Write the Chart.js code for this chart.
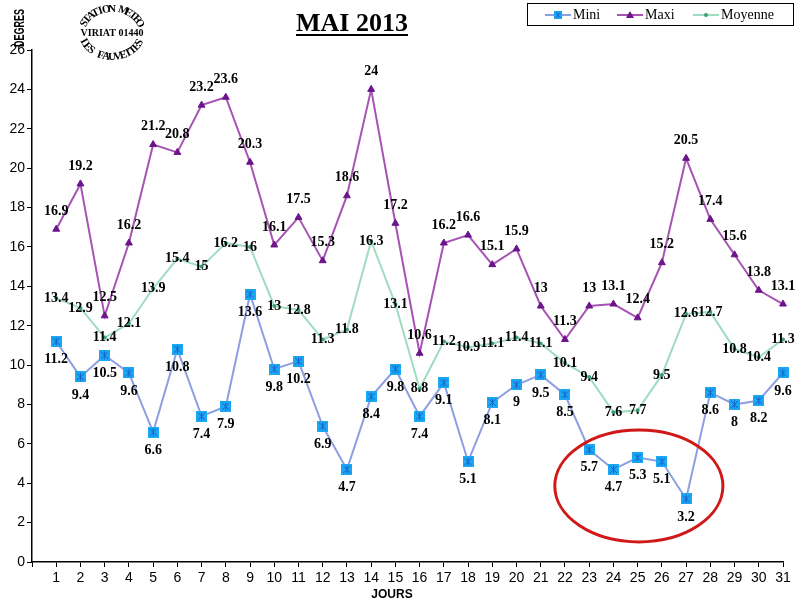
<!DOCTYPE html>
<html>
<head>
<meta charset="utf-8">
<script src="https://cdn.jsdelivr.net/npm/chart.js@4.4.1/dist/chart.umd.min.js"></script>
<style>
  html, body { margin: 0; padding: 0; background: #fff; }
  #wrap { width: 801px; height: 606px; }
</style>
</head>
<body>
<div id="wrap"><canvas id="chart" width="801" height="606"></canvas></div>
<script>
// donnees releves mai 2013
const days = [1,2,3,4,5,6,7,8,9,10,11,12,13,14,15,16,17,18,19,20,21,22,23,24,25,26,27,28,29,30,31];
const mini = [11.2,9.4,10.5,9.6,6.6,10.8,7.4,7.9,13.6,9.8,10.2,6.9,4.7,8.4,9.8,7.4,9.1,5.1,8.1,9,9.5,8.5,5.7,4.7,5.3,5.1,3.2,8.6,8,8.2,9.6];
const maxi = [16.9,19.2,12.5,16.2,21.2,20.8,23.2,23.6,20.3,16.1,17.5,15.3,18.6,24,17.2,10.6,16.2,16.6,15.1,15.9,13,11.3,13,13.1,12.4,15.2,20.5,17.4,15.6,13.8,13.1];
const moyenne = [13.4,12.9,11.4,12.1,13.9,15.4,15,16.2,16,13,12.8,11.3,11.8,16.3,13.1,8.8,11.2,10.9,11.1,11.4,11.1,10.1,9.4,7.6,7.7,9.5,12.6,12.7,10.8,10.4,11.3];
const yMin = 0, yMax = 26, yStep = 2;

// zone entouree en rouge (jours 23-27)
const highlight = { day: 25.05, value: 3.86, halfDays: 3.47, halfValue: 2.84 };

const serif = '"Liberation Serif", "Times New Roman", serif';
const sans = '"Liberation Sans", Arial, sans-serif';

const colors = {
    mini: '#8c9fe0',
    miniFill: '#1aa8f2',
    miniStar: '#1b5fcf',
    maxi: '#a653b3',
    maxiPoint: '#6b148c',
    moy: '#9fdcc0',
    moyPoint: '#3a9e78'
};

// marqueur carre + asterisque
function makeMiniMarker() {
    const c = document.createElement('canvas');
    c.width = 11; c.height = 11;
    const g = c.getContext('2d');
    g.fillStyle = colors.miniFill;
    g.fillRect(0, 0, 11, 11);
    g.strokeStyle = colors.miniStar;
    g.lineWidth = 1;
    g.beginPath();
    g.moveTo(5.5, 1.5); g.lineTo(5.5, 9.5);
    g.moveTo(2, 2); g.lineTo(9, 9);
    g.moveTo(9, 2); g.lineTo(2, 9);
    g.stroke();
    return c;
}
const miniMarker = makeMiniMarker();

const toPoints = arr => days.map((d, i) => ({ x: d, y: arr[i] }));

// texte le long d'une ellipse (tampon)
function drawArcText(ctx, text, cx, cy, rx, ry, a0, a1, upOut) {
    const n = text.length;
    for (let i = 0; i < n; i++) {
        const a = a0 + (a1 - a0) * (i + 0.5) / n;
        const px = cx + rx * Math.cos(a), py = cy + ry * Math.sin(a);
        const normal = Math.atan2(Math.sin(a) / ry, Math.cos(a) / rx);
        ctx.save();
        ctx.translate(px, py);
        ctx.rotate(upOut ? normal + Math.PI / 2 : normal - Math.PI / 2);
        ctx.fillText(text[i], 0, 0);
        ctx.restore();
    }
}

const decorPlugin = {
    id: 'decor',
    afterDatasetsDraw(chart) {
        const ctx = chart.ctx;
        const xs = chart.scales.x, ys = chart.scales.y;

        // etiquettes de valeurs
        ctx.save();
        ctx.font = 'bold 14px ' + serif;
        ctx.fillStyle = '#000';
        ctx.textAlign = 'center';
        ctx.textBaseline = 'middle';
        const offsets = [18, -18, 0];
        chart.data.datasets.forEach((ds, k) => {
            const meta = chart.getDatasetMeta(k);
            meta.data.forEach((pt, i) => {
                ctx.fillText(String(ds.data[i].y), pt.x, pt.y + offsets[k]);
            });
        });
        ctx.restore();

        // ellipse rouge
        const cx = xs.getPixelForValue(highlight.day);
        const cy = ys.getPixelForValue(highlight.value);
        const rx = Math.abs(xs.getPixelForValue(highlight.day + highlight.halfDays) - cx);
        const ry = Math.abs(ys.getPixelForValue(highlight.value + highlight.halfValue) - cy);
        ctx.save();
        ctx.strokeStyle = '#d01818';
        ctx.lineWidth = 3;
        ctx.beginPath();
        ctx.ellipse(cx, cy, rx, ry, 0, 0, Math.PI * 2);
        ctx.stroke();
        ctx.restore();
    },
    afterDraw(chart) {
        const ctx = chart.ctx;
        ctx.save();

        // titre
        ctx.font = 'bold 26px ' + serif;
        ctx.fillStyle = '#000';
        ctx.textAlign = 'center';
        ctx.textBaseline = 'alphabetic';
        ctx.fillText('MAI 2013', 352, 31);
        const w = ctx.measureText('MAI 2013').width;
        ctx.fillRect(352 - w / 2, 34, w, 2);

        // titres des axes
        ctx.font = 'bold 12px ' + sans;
        ctx.fillText('JOURS', 392, 598);
        ctx.save();
        ctx.translate(20, 28);
        ctx.rotate(-Math.PI / 2);
        ctx.scale(0.64, 1);
        ctx.font = 'bold 14px ' + sans;
        ctx.textBaseline = 'middle';
        ctx.fillText('DEGRES', 0, 0);
        ctx.restore();

        // tampon station
        ctx.font = 'bold 11px ' + serif;
        ctx.textBaseline = 'middle';
        drawArcText(ctx, 'STATION METEO', 112, 33, 30, 24, -Math.PI * 0.9, -Math.PI * 0.1, true);
        drawArcText(ctx, 'LES FAUVETTES', 112, 33, 30, 24, Math.PI * 0.9, Math.PI * 0.1, false);
        ctx.font = 'bold 10px ' + serif;
        ctx.fillText('VIRIAT 01440', 112, 33);

        // legende
        ctx.strokeStyle = '#000';
        ctx.lineWidth = 1;
        ctx.strokeRect(527.5, 3.5, 266, 22);
        const items = [
            { label: 'Mini', x: 545, line: colors.mini },
            { label: 'Maxi', x: 617, line: colors.maxi },
            { label: 'Moyenne', x: 693, line: colors.moy }
        ];
        ctx.font = '14px ' + serif;
        ctx.textAlign = 'left';
        items.forEach((it, k) => {
            ctx.strokeStyle = it.line;
            ctx.lineWidth = 2;
            ctx.beginPath();
            ctx.moveTo(it.x, 15);
            ctx.lineTo(it.x + 26, 15);
            ctx.stroke();
            const mx = it.x + 13;
            if (k === 0) {
                ctx.drawImage(miniMarker, mx - 4, 11, 8, 8);
            } else if (k === 1) {
                ctx.fillStyle = colors.maxiPoint;
                ctx.beginPath();
                ctx.moveTo(mx, 11); ctx.lineTo(mx + 4, 18); ctx.lineTo(mx - 4, 18);
                ctx.closePath(); ctx.fill();
            } else {
                ctx.fillStyle = colors.moyPoint;
                ctx.beginPath();
                ctx.arc(mx, 15, 2, 0, Math.PI * 2);
                ctx.fill();
            }
            ctx.fillStyle = '#000';
            ctx.fillText(it.label, it.x + 28, 15);
        });
        ctx.restore();
    }
};

new Chart(document.getElementById('chart'), {
    type: 'line',
    data: {
        datasets: [
            {
                label: 'Mini',
                data: toPoints(mini),
                borderColor: colors.mini,
                borderWidth: 2,
                pointStyle: miniMarker,
                pointRadius: 5,
                tension: 0,
                clip: false
            },
            {
                label: 'Maxi',
                data: toPoints(maxi),
                borderColor: colors.maxi,
                borderWidth: 2,
                pointStyle: 'triangle',
                pointRadius: 4,
                pointBackgroundColor: colors.maxiPoint,
                pointBorderColor: colors.maxiPoint,
                pointBorderWidth: 1,
                tension: 0,
                clip: false
            },
            {
                label: 'Moyenne',
                data: toPoints(moyenne),
                borderColor: colors.moy,
                borderWidth: 2,
                pointStyle: 'circle',
                pointRadius: 2,
                pointBackgroundColor: colors.moyPoint,
                pointBorderColor: colors.moyPoint,
                pointBorderWidth: 0,
                tension: 0,
                clip: false
            }
        ]
    },
    options: {
        responsive: false,
        animation: false,
        layout: { padding: { top: 50, right: 18, left: 0, bottom: 0 } },
        plugins: {
            legend: { display: false },
            tooltip: { enabled: false },
            title: { display: false }
        },
        scales: {
            x: {
                type: 'linear',
                min: 0,
                max: days[days.length - 1],
                afterFit(scale) { scale.height = 44; },
                afterBuildTicks(scale) {
                    scale.ticks = [0].concat(days).map(v => ({ value: v }));
                },
                border: { display: true, color: '#000', width: 1.5 },
                grid: { display: true, drawOnChartArea: false, drawTicks: true, tickLength: 5, color: '#000' },
                ticks: {
                    color: '#000',
                    font: { family: sans, size: 14 },
                    padding: 3,
                    maxRotation: 0,
                    autoSkip: false,
                    callback: v => (v === 0 ? '' : String(v))
                }
            },
            y: {
                min: yMin,
                max: yMax,
                afterFit(scale) { scale.width = 32; },
                border: { display: true, color: '#000', width: 1.5 },
                grid: { display: true, drawOnChartArea: false, drawTicks: true, tickLength: 5, color: '#000' },
                ticks: {
                    stepSize: yStep,
                    color: '#000',
                    font: { family: sans, size: 14 },
                    padding: 2
                }
            }
        }
    },
    plugins: [decorPlugin]
});
</script>
</body>
</html>
